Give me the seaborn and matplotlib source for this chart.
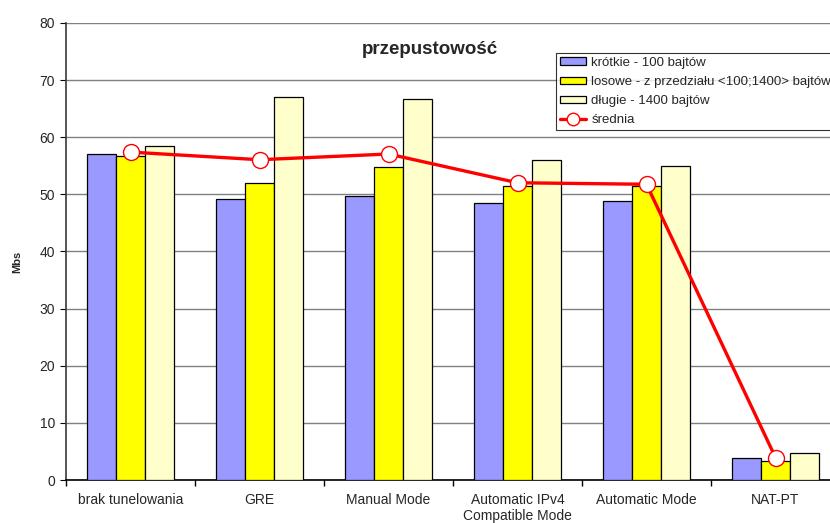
import numpy as np
import pandas as pd
import matplotlib
matplotlib.use("Agg")
import matplotlib.pyplot as plt
import seaborn as sns
from matplotlib.patches import Patch
from matplotlib.lines import Line2D

categories = ["brak tunelowania", "GRE", "Manual Mode",
              "Automatic IPv4\nCompatible Mode", "Automatic Mode", "NAT-PT"]
series_names = ["krótkie - 100 bajtów",
                "losowe - z przedziału <100;1400> bajtów",
                "długie - 1400 bajtów"]
krotkie = [57.0, 49.2, 49.7, 48.5, 48.8, 3.8]
losowe = [56.7, 52.0, 54.8, 51.5, 51.5, 3.3]
dlugie = [58.5, 67.0, 66.7, 56.1, 55.0, 4.7]
mean_label = "średnia"
title = "przepustowość"
y_label = "Mbs"
y_ticks = [0, 10, 20, 30, 40, 50, 60, 70, 80]

colors = ["#9999FF", "#FFFF00", "#FFFFCC"]

df = pd.DataFrame({
    "kategoria": categories * 3,
    "seria": [s for s in series_names for _ in categories],
    "Mbs": krotkie + losowe + dlugie,
})
srednia = np.mean([krotkie, losowe, dlugie], axis=0)

sns.set_theme(style="white")
plt.rcParams["font.family"] = ["Liberation Sans", "DejaVu Sans"]

fig = plt.figure(figsize=(8.30, 5.23), dpi=100)
ax = fig.add_axes([66 / 830, 1 - 480 / 523, 774 / 830, 457 / 523])

sns.barplot(data=df, x="kategoria", y="Mbs", hue="seria", order=categories,
            hue_order=series_names, palette=colors, width=0.67,
            edgecolor="black", linewidth=0.9, saturation=1, ax=ax,
            legend=False, zorder=3)

ax.plot(np.arange(len(categories)), srednia, color="#FF0000", lw=2.4,
        marker="o", markersize=11.5, markerfacecolor="white",
        markeredgecolor="#FF0000", markeredgewidth=1.0, zorder=5)

ax.set_xlim(-0.5, len(categories) - 0.5)
ax.set_ylim(0, 80)
ax.set_yticks(y_ticks)
ax.set_yticklabels([str(t) for t in y_ticks], fontsize=10)
ax.yaxis.grid(True, color="#808080", lw=1.0, zorder=0)
ax.set_axisbelow(True)

ax.set_xticks(np.arange(len(categories)))
ax.set_xticklabels(categories, fontsize=10, linespacing=1.25)
ax.set_xticks(np.arange(len(categories) + 1) - 0.5, minor=True)
ax.tick_params(axis="x", which="major", length=0, pad=9)
ax.tick_params(axis="x", which="minor", length=4, width=1, color="black",
               direction="out", bottom=True)
ax.tick_params(axis="y", length=4, width=0.8, color="black", direction="out",
               left=True, pad=4)

for side in ["top", "right"]:
    ax.spines[side].set_visible(False)
ax.spines["left"].set_color("#404040")
ax.spines["bottom"].set_color("black")
ax.spines["bottom"].set_linewidth(1.2)
ax.set_xlabel("")
ax.set_ylabel(y_label, fontsize=8, fontweight="bold", va="center")
ax.yaxis.set_label_coords((17 - 66) / 774, (480 - 262) / 457)

fig.text(430 / 830, 1 - 50 / 523, title, ha="center", va="center",
         fontsize=13.5, fontweight="bold")

handles = [Patch(facecolor=c, edgecolor="black", linewidth=0.9) for c in colors]
handles.append(Line2D([0], [0], color="#FF0000", lw=2.4, marker="o",
                      markersize=9, markerfacecolor="white",
                      markeredgecolor="#FF0000"))
leg = fig.legend(handles, series_names + [mean_label], loc="upper left",
                 bbox_to_anchor=(556 / 830, 1 - 53 / 523),
                 bbox_transform=fig.transFigure, fontsize=9.5,
                 frameon=True, fancybox=False, shadow=False,
                 handlelength=2.0, handleheight=0.5, handletextpad=0.4,
                 borderpad=0.28, labelspacing=0.55, borderaxespad=0)
leg.get_frame().set_edgecolor("black")
leg.get_frame().set_linewidth(0.8)

fig.savefig("out.png", dpi=100)
